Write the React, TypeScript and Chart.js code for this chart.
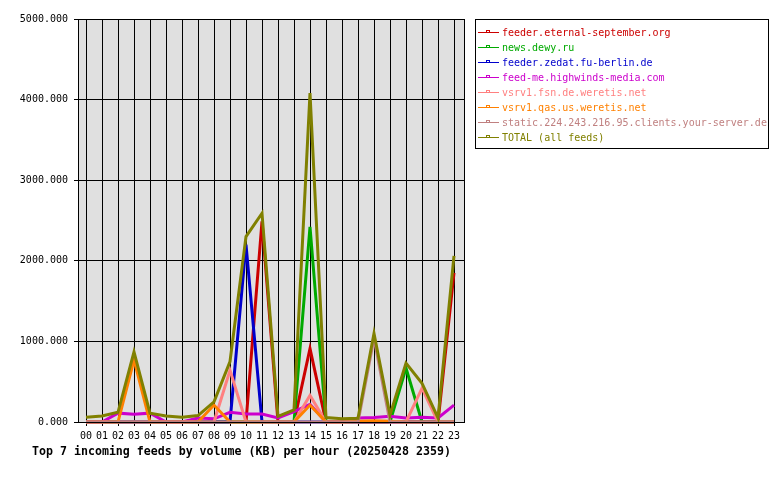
import { useEffect, useRef } from "react";
import { Chart, registerables } from "chart.js";

Chart.register(...registerables);

const hours = ["00","01","02","03","04","05","06","07","08","09","10","11","12","13","14","15","16","17","18","19","20","21","22","23"];

const seriesNames = [
  "feeder.eternal-september.org",
  "news.dewy.ru",
  "feeder.zedat.fu-berlin.de",
  "feed-me.highwinds-media.com",
  "vsrv1.fsn.de.weretis.net",
  "vsrv1.qas.us.weretis.net",
  "static.224.243.216.95.clients.your-server.de",
  "TOTAL (all feeds)",
];

const seriesColors = ["#cc0000", "#00aa00", "#0000cc", "#cc00cc", "#ff8080", "#ff8000", "#c08080", "#808000"];

const eternal = [0,0,0,0,0,0,0,0,0,0,0,2490,0,0,910,0,0,0,0,0,0,0,0,1850];
const dewy = [0,0,0,0,0,0,0,0,0,0,0,0,0,0,2420,0,0,0,0,0,670,0,0,0];
const zedat = [0,0,0,0,0,0,0,0,0,0,2200,0,0,0,0,0,0,0,0,0,0,0,0,0];
const highwinds = [0,0,110,95,110,0,0,50,40,120,100,100,50,130,220,0,0,50,55,70,50,60,50,210];
const fsn = [0,0,0,0,0,0,0,0,0,640,0,0,0,0,330,0,0,0,0,0,0,420,0,0];
const qas = [0,0,0,770,0,0,0,0,210,0,0,0,0,0,210,0,0,10,15,10,0,0,0,0];
const staticSrv = [0,0,0,0,0,0,0,0,0,0,0,0,0,0,0,0,0,0,1040,0,0,0,0,0];
const total = [60,75,120,870,110,75,60,80,250,750,2300,2590,70,150,4080,55,40,45,1100,85,730,480,50,2060];

const titleText = "Top 7 incoming feeds by volume (KB) per hour (20250428 2359)";
const FONT = "'DejaVu Sans Mono', monospace";

export default function App() {
  const ref = useRef<HTMLCanvasElement>(null);

  useEffect(() => {
    const series = [eternal, dewy, zedat, highwinds, fsn, qas, staticSrv, total];
    const datasets = series.map((d, i) => ({
      label: seriesNames[i],
      data: d.map((v, h) => ({ x: h, y: v })),
      borderColor: seriesColors[i],
      backgroundColor: seriesColors[i],
      borderWidth: 3,
      pointRadius: 0,
      pointHoverRadius: 0,
      fill: false,
      tension: 0,
      clip: 4,
      order: series.length - i,
    }));

    const bgPlugin = {
      id: "bg",
      beforeDraw(chart: any) {
        const { ctx, chartArea: a } = chart;
        ctx.save();
        ctx.fillStyle = "#ffffff";
        ctx.fillRect(0, 0, chart.width, chart.height);
        ctx.fillStyle = "#e0e0e0";
        ctx.fillRect(a.left, a.top, a.right - a.left, a.bottom - a.top);
        ctx.restore();
      },
      afterDraw(chart: any) {
        const { ctx, chartArea: a } = chart;
        ctx.save();
        ctx.strokeStyle = "#000";
        ctx.lineWidth = 1;
        ctx.strokeRect(Math.round(a.left) + 0.5, Math.round(a.top) + 0.5, Math.round(a.right - a.left), Math.round(a.bottom - a.top));
        // legend
        const lx = 475, ly = 19, lw = 293, lh = 129;
        ctx.fillStyle = "#fff";
        ctx.fillRect(lx, ly, lw, lh);
        ctx.strokeStyle = "#000";
        ctx.strokeRect(lx + 0.5, ly + 0.5, lw, lh);
        ctx.font = `10px ${FONT}`;
        ctx.textBaseline = "middle";
        ctx.textAlign = "left";
        seriesNames.forEach((name, i) => {
          const y = 32 + 15 * i;
          ctx.strokeStyle = seriesColors[i];
          ctx.lineWidth = 1;
          ctx.beginPath();
          ctx.moveTo(478, y + 0.5);
          ctx.lineTo(499, y + 0.5);
          ctx.stroke();
          ctx.strokeRect(486.5, y - 1.5, 3, 2);
          ctx.fillStyle = seriesColors[i];
          ctx.fillText(name, 502, y + 1);
        });
        // title
        ctx.fillStyle = "#000";
        ctx.font = `bold 11.6px ${FONT}`;
        ctx.textAlign = "center";
        ctx.textBaseline = "middle";
        ctx.fillText(titleText, 241.5, 452);
        ctx.restore();
      },
    };

    const chart = new Chart(ref.current!, {
      type: "line",
      data: { datasets } as any,
      options: {
        animation: false,
        responsive: false,
        events: [],
        layout: { padding: { top: 19, right: 316, left: 0, bottom: 0 } },
        plugins: {
          legend: { display: false },
          tooltip: { enabled: false },
          title: { display: false },
        },
        scales: {
          x: {
            type: "linear",
            min: -0.5,
            max: 23.625,
            afterFit: (s: any) => { s.height = 58; },
            afterBuildTicks: (s: any) => { s.ticks = hours.map((_, i) => ({ value: i })); },
            ticks: {
              callback: (v: any) => hours[Number(v)] ?? "",
              color: "#000",
              font: { family: FONT, size: 10 },
              padding: 4,
              maxRotation: 0,
              autoSkip: false,
            },
            grid: { color: "#000", lineWidth: 1, tickLength: 4 },
            border: { color: "#000" },
          },
          y: {
            min: 0,
            max: 5000,
            afterFit: (s: any) => { s.width = 78; },
            ticks: {
              stepSize: 1000,
              callback: (v: any) => Number(v).toFixed(3),
              color: "#000",
              font: { family: FONT, size: 10 },
              padding: 6,
            },
            grid: { color: "#000", lineWidth: 1, tickLength: 4 },
            border: { color: "#000" },
          },
        },
      } as any,
      plugins: [bgPlugin],
    });
    return () => chart.destroy();
  }, []);

  return (
    <div style={{ position: "absolute", left: 0, top: 0, width: 780, height: 480 }}>
      <canvas ref={ref} width={780} height={480} style={{ display: "block", width: 780, height: 480 }} />
    </div>
  );
}
